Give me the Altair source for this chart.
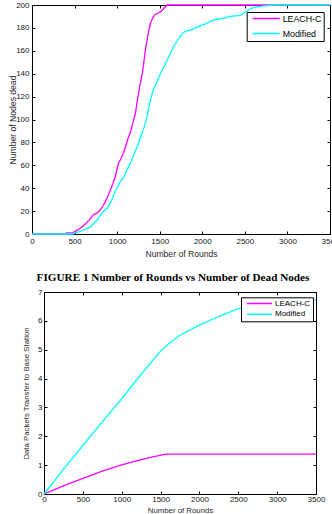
import altair as alt
import pandas as pd

# ---------------- data ----------------
series_names = ["LEACH-C", "Modified"]
series_colors = ["#ff00ff", "#00ffff"]
round_ticks = [0, 500, 1000, 1500, 2000, 2500, 3000, 3500]
dead_ticks = [0, 20, 40, 60, 80, 100, 120, 140, 160, 180, 200]
pkt_ticks = [0, 1, 2, 3, 4, 5, 6, 7]
caption = "FIGURE 1 Number of Rounds vs Number of Dead Nodes"

# Figure 1: number of dead nodes
leach_dead_rounds = [0, 400, 405, 480, 520, 566, 600, 644, 680, 723, 760, 801, 830, 860, 890,
                     919, 950, 978, 1000, 1017, 1040, 1076, 1110, 1135, 1160, 1174, 1195, 1214,
                     1240, 1273, 1295, 1312, 1330, 1351, 1370, 1390, 1420, 1449, 1480, 1508,
                     1547, 1587, 3500]
leach_dead_nodes = [0, 0, 1, 1, 3, 5, 7, 10, 13, 17, 18, 21, 24, 28, 33,
                    38, 44, 50, 57, 62, 65, 71, 79, 85, 90, 94, 100, 105,
                    118, 132, 140, 149, 160, 169, 177, 184, 189, 192, 193, 194,
                    197, 200, 200]
mod_dead_rounds = [0, 480, 500, 560, 620, 684, 720, 762, 800, 840, 880, 919, 950, 978, 1000,
                   1037, 1080, 1116, 1150, 1174, 1200, 1233, 1260, 1292, 1320, 1351, 1370,
                   1390, 1430, 1470, 1508, 1550, 1587, 1620, 1665, 1710, 1764, 1800, 1862,
                   1920, 1980, 2050, 2137, 2215, 2280, 2333, 2451, 2490, 2530, 2570, 2608,
                   2700, 2844, 3500]
mod_dead_nodes = [0, 0, 1, 2, 4, 6, 9, 12, 16, 20, 22, 27, 32, 38, 40,
                  46, 50, 56, 61, 65, 70, 76, 81, 88, 94, 102, 110,
                  117, 127, 133, 140, 146, 152, 157, 164, 169, 175, 177, 178,
                  180, 182, 184, 187, 188, 189, 190, 191, 193, 195, 197, 198,
                  199, 200, 200]

# Figure 2: data packets transferred to base station
leach_pkt_rounds = [0, 250, 500, 750, 1000, 1250, 1400, 1570, 3500]
leach_pkt = [0, 0.28, 0.54, 0.79, 1.01, 1.19, 1.29, 1.38, 1.38]
mod_pkt_rounds = [0, 250, 500, 750, 1000, 1250, 1500, 1600, 1750, 2000, 2250, 2500, 2750,
                  3000, 3250, 3500]
mod_pkt = [0, 0.85, 1.68, 2.5, 3.3, 4.15, 4.95, 5.2, 5.5, 5.85, 6.15, 6.42, 6.58,
           6.67, 6.71, 6.72]


def frame(rounds_a, vals_a, rounds_b, vals_b):
    a = pd.DataFrame({"r": rounds_a, "v": vals_a, "s": series_names[0]})
    b = pd.DataFrame({"r": rounds_b, "v": vals_b, "s": series_names[1]})
    return pd.concat([a, b], ignore_index=True)


df_dead = frame(leach_dead_rounds, leach_dead_nodes, mod_dead_rounds, mod_dead_nodes)
df_pkt = frame(leach_pkt_rounds, leach_pkt, mod_pkt_rounds, mod_pkt)

FONT = "Liberation Sans"
LABEL_COLOR = "#151515"
TITLE_COLOR = "#2a2a2a"
TOTAL_W, TOTAL_H = 332, 514


def panel(df, x0, x1, ytop, ybot, ydomain, yticks, ytitle, ytitle_cx, xtitle_cy,
          xlabel_pad, ylabel_pad, tick_fs, title_fs, legend):
    """Return the layers of one MATLAB-style panel whose plot box spans x0..x1, ytop..ybot."""
    xs = alt.Scale(domain=[0, 3500], range=[x0, x1], nice=False, zero=False)
    ys = alt.Scale(domain=ydomain, range=[ybot, ytop], nice=False, zero=False)
    edge = dict(labels=False, grid=False, ticks=True, tickSize=3, tickColor="black",
                tickWidth=1, domain=True, domainColor="black", domainWidth=1, title=None)

    lines = alt.Chart(df).mark_line(strokeWidth=1.3).encode(
        x=alt.X("r:Q", scale=xs, axis=alt.Axis(
            orient="bottom", offset=ybot - TOTAL_H, values=round_ticks, format="d",
            ticks=False, tickSize=0, domain=False, grid=False, labelPadding=xlabel_pad,
            labelFontSize=tick_fs, labelFont=FONT, labelColor=LABEL_COLOR,
            labelFlush=False, labelOverlap=False,
            title="Number of Rounds", titleFont=FONT, titleFontSize=title_fs,
            titleFontWeight="normal", titleColor=TITLE_COLOR, titleX=(x0 + x1) / 2,
            titleY=xtitle_cy - ybot, titleBaseline="middle", titleAlign="center")),
        y=alt.Y("v:Q", scale=ys, axis=alt.Axis(
            orient="left", offset=-x0, values=yticks, format="d",
            ticks=False, tickSize=0, domain=False, grid=False, labelPadding=ylabel_pad,
            labelFontSize=tick_fs, labelFont=FONT, labelColor=LABEL_COLOR,
            labelOverlap=False,
            title=ytitle, titleFont=FONT, titleFontSize=title_fs,
            titleFontWeight="normal", titleColor=TITLE_COLOR, titleX=ytitle_cx - x0,
            titleY=(ytop + ybot) / 2, titleBaseline="middle", titleAlign="center")),
        color=alt.Color("s:N", scale=alt.Scale(domain=series_names, range=series_colors),
                        legend=legend),
    )
    # bottom and left edges of the box, ticks pointing inward
    t1 = alt.Chart(df).mark_point(opacity=0).encode(
        x=alt.X("r:Q", scale=xs, axis=alt.Axis(orient="top", offset=-ybot,
                                               values=round_ticks, **edge)),
        y=alt.Y("v:Q", scale=ys, axis=alt.Axis(orient="right", offset=x0 - TOTAL_W,
                                               values=yticks, **edge)),
    )
    # top and right edges of the box, ticks pointing inward
    t2 = alt.Chart(df).mark_point(opacity=0).encode(
        x=alt.X("r:Q", scale=xs, axis=alt.Axis(orient="bottom", offset=ytop - TOTAL_H,
                                               values=round_ticks, **edge)),
        y=alt.Y("v:Q", scale=ys, axis=alt.Axis(orient="left", offset=-x1,
                                               values=yticks, **edge)),
    )
    return [t1, t2, lines]


legend_top = alt.Legend(
    orient="none", legendX=246.7, legendY=12.0, title=None, symbolType="stroke",
    symbolSize=729, symbolStrokeWidth=1.5, labelFontSize=8.8, labelFont=FONT,
    labelColor="black", padding=2, rowPadding=5, clipHeight=9, symbolOffset=3,
    labelOffset=2, strokeColor="black", fillColor="white")

legend_bottom = alt.Legend(
    orient="none", legendX=241, legendY=297.3, title=None, symbolType="stroke",
    symbolSize=625, symbolStrokeWidth=1.5, labelFontSize=8, labelFont=FONT,
    labelColor="black", padding=2.3, rowPadding=2.7, clipHeight=8, symbolOffset=2.7,
    labelOffset=2, strokeColor="black", fillColor="white")

top_layers = panel(df_dead, 32, 330, 5, 234, [0, 200], dead_ticks, "Number of Nodes dead",
                   ytitle_cx=12, xtitle_cy=253, xlabel_pad=3, ylabel_pad=3,
                   tick_fs=8, title_fs=8.6, legend=legend_top)

bottom_layers = panel(df_pkt, 44, 316, 292, 494, [0, 7], pkt_ticks,
                      "Data Packets Transfer to Base Station",
                      ytitle_cx=26.7, xtitle_cy=510, xlabel_pad=1.5, ylabel_pad=2,
                      tick_fs=8, title_fs=7.8, legend=legend_bottom)

cap = alt.Chart(pd.DataFrame({"t": [caption]})).mark_text(
    font="Liberation Serif", fontWeight="bold", fontSize=11.2, align="center",
    baseline="middle", color="black").encode(
    text="t:N", x=alt.value(173), y=alt.value(278))

chart = alt.layer(*top_layers, *bottom_layers, cap).resolve_scale(
    x="independent", y="independent", color="independent").properties(
    width=TOTAL_W, height=TOTAL_H, padding=0, background="white",
    autosize=alt.AutoSizeParams(type="none")).configure_view(stroke=None)

chart.save("out.html", embed_options={"renderer": "svg", "actions": False})
